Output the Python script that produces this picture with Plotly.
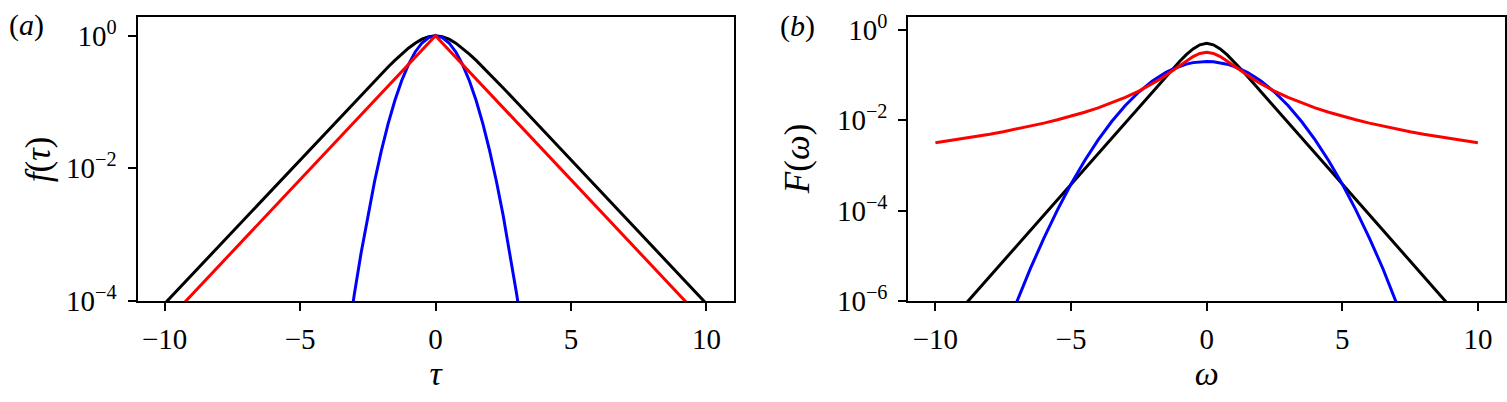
import plotly.graph_objects as go

# ---------------- data ----------------
# panel (a): f(tau)
tau = [-10, -9.5, -9, -8.5, -8, -7.5, -7, -6.5, -6, -5.5, -5, -4.5, -4, -3.5, -3, -2.5, -2,
       -1.75, -1.5, -1.25, -1, -0.75, -0.5, -0.25, 0, 0.25, 0.5, 0.75, 1, 1.25, 1.5, 1.75,
       2, 2.5, 3, 3.5, 4, 4.5, 5, 5.5, 6, 6.5, 7, 7.5, 8, 8.5, 9, 9.5, 10]
f_black = [9.080e-5, 1.497e-4, 2.468e-4, 4.069e-4, 6.709e-4, 1.106e-3, 1.824e-3, 3.007e-3, 4.957e-3,
           8.173e-3, 1.348e-2, 2.222e-2, 3.662e-2, 6.034e-2, 9.933e-2, 0.1631, 0.2658,
           0.3374, 0.4251, 0.5295, 0.6481, 0.7724, 0.8868, 0.9695, 1.0, 0.9695, 0.8868, 0.7724,
           0.6481, 0.5295, 0.4251, 0.3374,
           0.2658, 0.1631, 9.933e-2, 6.034e-2, 3.662e-2, 2.222e-2, 1.348e-2, 8.173e-3, 4.957e-3,
           3.007e-3, 1.824e-3, 1.106e-3, 6.709e-4, 4.069e-4, 2.468e-4, 1.497e-4, 9.080e-5]
f_red = [4.540e-5, 7.485e-5, 1.234e-4, 2.035e-4, 3.355e-4, 5.531e-4, 9.119e-4, 1.503e-3, 2.479e-3,
         4.087e-3, 6.738e-3, 1.111e-2, 1.832e-2, 3.020e-2, 4.979e-2, 8.208e-2, 0.1353,
         0.1738, 0.2231, 0.2865, 0.3679, 0.4724, 0.6065, 0.7788, 1.0, 0.7788, 0.6065, 0.4724,
         0.3679, 0.2865, 0.2231, 0.1738,
         0.1353, 8.208e-2, 4.979e-2, 3.020e-2, 1.832e-2, 1.111e-2, 6.738e-3, 4.087e-3, 2.479e-3,
         1.503e-3, 9.119e-4, 5.531e-4, 3.355e-4, 2.035e-4, 1.234e-4, 7.485e-5, 4.540e-5]
tau_blue = [-3.5, -3.25, -3, -2.75, -2.5, -2.25, -2, -1.75, -1.5, -1.25, -1, -0.75, -0.5, -0.25, 0,
            0.25, 0.5, 0.75, 1, 1.25, 1.5, 1.75, 2, 2.25, 2.5, 2.75, 3, 3.25, 3.5]
f_blue = [4.785e-6, 2.587e-5, 1.234e-4, 5.196e-4, 1.930e-3, 6.330e-3, 1.832e-2, 4.677e-2, 0.1054,
          0.2096, 0.3679, 0.5698, 0.7788, 0.9394, 1.0,
          0.9394, 0.7788, 0.5698, 0.3679, 0.2096, 0.1054, 4.677e-2, 1.832e-2, 6.330e-3, 1.930e-3,
          5.196e-4, 1.234e-4, 2.587e-5, 4.785e-6]

# panel (b): F(omega)
omega = [-10, -9.5, -9, -8.5, -8, -7.5, -7, -6.5, -6, -5.5, -5, -4.5, -4, -3.5, -3, -2.5, -2,
         -1.75, -1.5, -1.25, -1, -0.75, -0.5, -0.25, 0, 0.25, 0.5, 0.75, 1, 1.25, 1.5, 1.75,
         2, 2.5, 3, 3.5, 4, 4.5, 5, 5.5, 6, 6.5, 7, 7.5, 8, 8.5, 9, 9.5, 10]
F_black = [1.507e-7, 3.304e-7, 7.251e-7, 1.590e-6, 3.488e-6, 7.648e-6, 1.677e-5, 3.680e-5, 8.070e-5,
           1.770e-4, 3.882e-4, 8.514e-4, 1.867e-3, 4.096e-3, 8.983e-3, 1.970e-2, 4.313e-2,
           6.373e-2, 9.393e-2, 0.1376, 0.1993, 0.2812, 0.3775, 0.4638, 0.5, 0.4638, 0.3775, 0.2812,
           0.1993, 0.1376, 9.393e-2, 6.373e-2,
           4.313e-2, 1.970e-2, 8.983e-3, 4.096e-3, 1.867e-3, 8.514e-4, 3.882e-4, 1.770e-4, 8.070e-5,
           3.680e-5, 1.677e-5, 7.648e-6, 3.488e-6, 1.590e-6, 7.251e-7, 3.304e-7, 1.507e-7]
F_red = [3.152e-3, 3.488e-3, 3.882e-3, 4.346e-3, 4.897e-3, 5.560e-3, 6.366e-3, 7.360e-3, 8.603e-3,
         1.019e-2, 1.224e-2, 1.498e-2, 1.872e-2, 2.402e-2, 3.183e-2, 4.390e-2, 6.366e-2,
         7.835e-2, 9.794e-2, 0.1242, 0.1592, 0.2037, 0.2546, 0.2996, 0.3183, 0.2996, 0.2546, 0.2037,
         0.1592, 0.1242, 9.794e-2, 7.835e-2,
         6.366e-2, 4.390e-2, 3.183e-2, 2.402e-2, 1.872e-2, 1.498e-2, 1.224e-2, 1.019e-2, 8.603e-3,
         7.360e-3, 6.366e-3, 5.560e-3, 4.897e-3, 4.346e-3, 3.882e-3, 3.488e-3, 3.152e-3]
F_blue = [2.77e-12, 3.17e-11, 3.20e-10, 2.854e-9, 2.245e-8, 1.558e-7, 9.546e-7, 5.161e-6, 2.462e-5,
          1.037e-4, 3.851e-4, 1.263e-3, 3.654e-3, 9.331e-3, 2.103e-2, 4.182e-2, 7.339e-2,
          9.278e-2, 0.1137, 0.1350, 0.1554, 0.1733, 0.1874, 0.1964, 0.1995, 0.1964, 0.1874, 0.1733,
          0.1554, 0.1350, 0.1137, 9.278e-2,
          7.339e-2, 4.182e-2, 2.103e-2, 9.331e-3, 3.654e-3, 1.263e-3, 3.851e-4, 1.037e-4, 2.462e-5,
          5.161e-6, 9.546e-7, 1.558e-7, 2.245e-8, 2.854e-9, 3.20e-10, 3.17e-11, 2.77e-12]

x_ticks = [-10, -5, 0, 5, 10]
x_ticktext = ["\u221210", "\u22125", "0", "5", "10"]
ya_ticks = [1e-4, 1e-2, 1]
ya_ticktext = ["10<sup>\u22124</sup>", "10<sup>\u22122</sup>", "10<sup>0</sup>"]
yb_ticks = [1e-6, 1e-4, 1e-2, 1]
yb_ticktext = ["10<sup>\u22126</sup>", "10<sup>\u22124</sup>", "10<sup>\u22122</sup>", "10<sup>0</sup>"]

# ---------------- figure ----------------
W, H = 1507, 402
FONT = "Liberation Serif, DejaVu Serif, serif"
LW = 3

fig = go.Figure()
fig.add_trace(go.Scatter(x=tau, y=f_black, mode="lines", line=dict(color="#000000", width=LW),
                         xaxis="x", yaxis="y", showlegend=False))
fig.add_trace(go.Scatter(x=tau_blue, y=f_blue, mode="lines", line=dict(color="#0000ff", width=LW),
                         xaxis="x", yaxis="y", showlegend=False))
fig.add_trace(go.Scatter(x=tau, y=f_red, mode="lines", line=dict(color="#ff0000", width=LW),
                         xaxis="x", yaxis="y", showlegend=False))

fig.add_trace(go.Scatter(x=omega, y=F_black, mode="lines", line=dict(color="#000000", width=LW),
                         xaxis="x2", yaxis="y2", showlegend=False))
fig.add_trace(go.Scatter(x=omega, y=F_blue, mode="lines", line=dict(color="#0000ff", width=LW),
                         xaxis="x2", yaxis="y2", showlegend=False))
fig.add_trace(go.Scatter(x=omega, y=F_red, mode="lines", line=dict(color="#ff0000", width=LW),
                         xaxis="x2", yaxis="y2", showlegend=False))

def xd(px):
    return px / W

def yd(py):
    return 1 - py / H

ax_common = dict(showgrid=False, zeroline=False, showline=True, linecolor="#000000", linewidth=2,
                 mirror=True, ticks="outside", ticklen=8, tickwidth=1.5, tickcolor="#000000",
                 tickfont=dict(family=FONT, size=29, color="#000000"))

xt_font = dict(family=FONT, size=34, color="#000000")
y_top, y_bot = 11.5, 312
fig.update_layout(
    width=W, height=H, margin=dict(l=0, r=0, t=0, b=0),
    paper_bgcolor="white", plot_bgcolor="white",
    xaxis=dict(domain=[xd(137.5), xd(733.5)], range=[-11, 11], tickvals=x_ticks,
               ticktext=x_ticktext, anchor="y", ticklabelstandoff=3,
               title=dict(text="<i>\u03c4</i>", font=xt_font, standoff=6), **ax_common),
    yaxis=dict(domain=[yd(y_bot), yd(y_top)], type="log", range=[-4, 0.285], tickvals=ya_ticks,
               ticktext=ya_ticktext, anchor="x", ticklabelstandoff=5, **ax_common),
    xaxis2=dict(domain=[xd(908.3), xd(1505)], range=[-11, 11], tickvals=x_ticks,
                ticktext=x_ticktext, anchor="y2", ticklabelstandoff=3,
                title=dict(text="<i>\u03c9</i>", font=xt_font, standoff=6), **ax_common),
    yaxis2=dict(domain=[yd(y_bot), yd(y_top)], type="log", range=[-6, 0.285], tickvals=yb_ticks,
                ticktext=yb_ticktext, anchor="x2", ticklabelstandoff=5, **ax_common),
)

ann_font = dict(family=FONT, size=35, color="#000000")
annotations = [
    dict(text="<i>f</i>(<i>\u03c4</i>)", x=xd(38), y=yd(162), xref="paper", yref="paper",
         showarrow=False, font=ann_font, xanchor="center", yanchor="middle", textangle=-90),
    dict(text="<i>F</i>(<i>\u03c9</i>)", x=xd(797), y=yd(162), xref="paper", yref="paper",
         showarrow=False, font=ann_font, xanchor="center", yanchor="middle", textangle=-90),
    dict(text="(<i>a</i>)", x=xd(26), y=yd(20), xref="paper", yref="paper",
         showarrow=False, font=dict(family=FONT, size=30, color="#000000"),
         xanchor="center", yanchor="middle"),
    dict(text="(<i>b</i>)", x=xd(797), y=yd(21), xref="paper", yref="paper",
         showarrow=False, font=dict(family=FONT, size=30, color="#000000"),
         xanchor="center", yanchor="middle"),
]
fig.update_layout(annotations=annotations)

fig.write_html("out.html")
